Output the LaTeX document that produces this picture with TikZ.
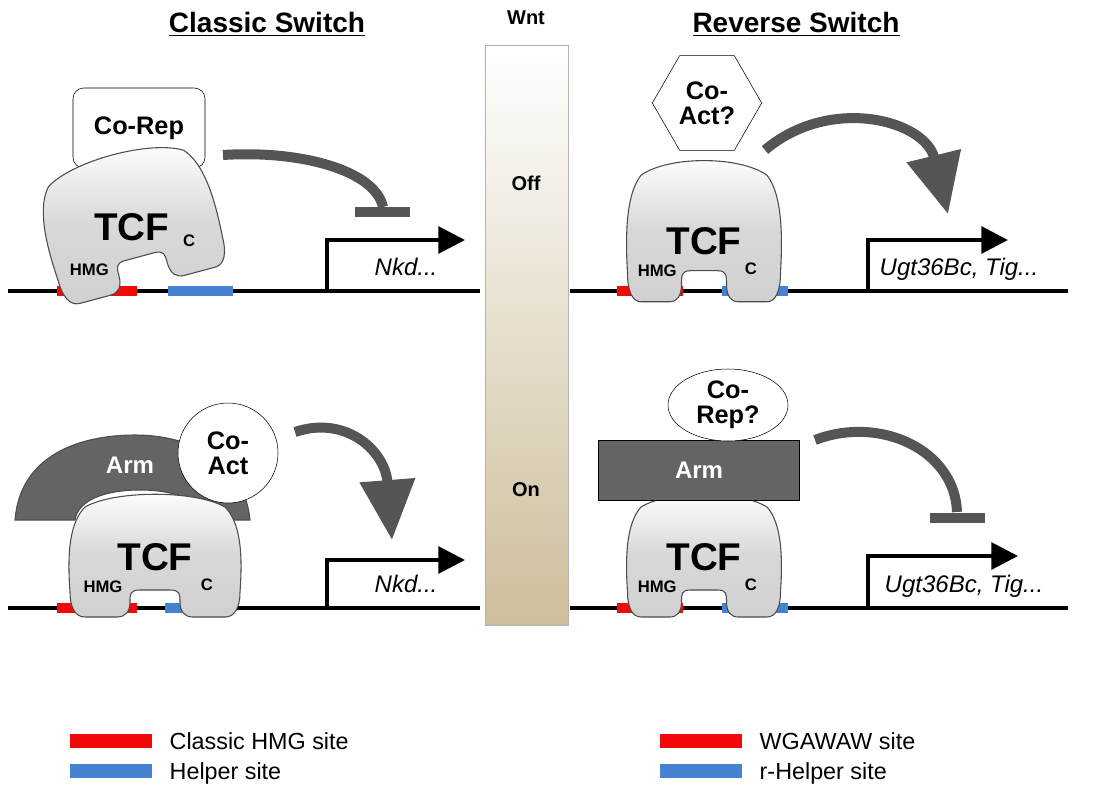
\documentclass[tikz,border=0pt]{standalone}
\usepackage{fontspec}
\setmainfont{Liberation Sans}
\usetikzlibrary{arrows.meta,shapes.geometric}
\definecolor{tcfgray}{RGB}{200,200,200}
\definecolor{armgray}{RGB}{100,100,100}
\definecolor{arrgray}{RGB}{85,85,85}
\definecolor{hmgred}{RGB}{240,10,10}
\definecolor{helpblue}{RGB}{70,130,210}
\definecolor{tan}{RGB}{205,190,155}
\tikzset{
  dna/.style={line width=3pt},
  site/.style={line width=7.5pt},
  tcf/.style={draw=black!70,line width=0.8pt,top color=white,bottom color=tcfgray!85,middle color=tcfgray!70},
  lab/.style={font=\bfseries\fontsize{19}{19}\selectfont,align=center},
  small/.style={font=\bfseries\fontsize{12.5}{12.5}\selectfont},
  big/.style={font=\bfseries\fontsize{29}{29}\selectfont},
  prom/.style={line width=3pt,-{Triangle[length=20pt 0,width=20pt 0]}},
  act/.style={arrgray,line width=7.5pt,-{Triangle[length=45pt 0,width=40pt 0]}},
  rep/.style={arrgray,line width=7.5pt},
  gene/.style={font=\itshape\fontsize{18}{18}\selectfont,anchor=base west},
  legend/.style={font=\fontsize{17.5}{17.5}\selectfont,anchor=west},
}
\newcommand\tcfbody[1][1]{%
  \path[tcf,yscale=#1] (-15,-22) -- (15,-22) .. controls (25,-22) and (25,-18) .. (25,-10) .. controls (25,0) and (30,5) .. (38,5) -- (70,5) .. controls (80,5) and (85,-5) .. (85,-20) .. controls (88,-60) and (85,-90) .. (70,-105) .. controls (40,-122) and (-40,-122) .. (-70,-105) .. controls (-85,-90) and (-88,-60) .. (-85,-20) .. controls (-85,-5) and (-80,5) .. (-70,5) -- (-38,5) .. controls (-30,5) and (-25,0) .. (-25,-10) .. controls (-25,-18) and (-25,-22) .. (-15,-22) -- cycle;
  \node[big] at (0,-55) {TCF};
  \node[small] at (-52,-25) {HMG};
  \node[small] at (52,-27) {C};}
\begin{document}
\begin{tikzpicture}[x=0.75pt,y=0.75pt,yscale=-1,xscale=1]
\useasboundingbox (0,0) rectangle (1097,800);

% titles
\node[font=\bfseries\fontsize{21}{21}\selectfont] (tclassic) at (267,24) {\underline{Classic Switch}};
\node[font=\bfseries\fontsize{21}{21}\selectfont] (treverse) at (796,24) {\underline{Reverse Switch}};

% Wnt bar
\shade[top color=white,bottom color=tan,draw=black!30] (485,45) rectangle (568,625);
\node[font=\bfseries\fontsize{15}{15}\selectfont] (wnt) at (526,18) {Wnt};
\node[font=\bfseries\fontsize{15}{15}\selectfont] (off) at (526,183) {Off};
\node[font=\bfseries\fontsize{15}{15}\selectfont] (on) at (526,490) {On};

% DNA lines and sites
\draw[dna] (8,291) -- (480,291);
\draw[dna] (8,608) -- (480,608);
\draw[dna] (570,291) -- (1068,291);
\draw[dna] (570,608) -- (1068,608);
\draw[site,hmgred] (57,291) -- (137,291);
\draw[site,helpblue] (168,291) -- (233,291);
\draw[site,hmgred] (57,608) -- (137,608);
\draw[site,helpblue] (165,608) -- (233,608);
\draw[site,hmgred] (617,291) -- (683,291);
\draw[site,helpblue] (722,291) -- (788,291);
\draw[site,hmgred] (617,608) -- (683,608);
\draw[site,helpblue] (722,608) -- (788,608);

% top left: classic off
\node[draw,rounded corners=8pt,fill=white,minimum width=99pt,minimum height=60pt,lab] (corep) at (139,128) {Co-Rep};
\begin{scope}[shift={(146,280)},rotate=-15]
\tcfbody[1.1]
\end{scope}
\coordinate (rep1s) at (223,155);
\coordinate (rep1e) at (383,207);
\draw[rep] (rep1s) .. controls (300,150) and (375,170) .. (rep1e);
\draw[arrgray,line width=7.5pt] (355,212) -- (410,212);
\coordinate (prom1) at (327,291);
\draw[prom] (prom1) |- (465,240);
\node[gene] (nkd1) at (370,275) {Nkd...};

% bottom left: classic on
\path[fill=armgray,draw=black!70,line width=0.8pt] (15,520) .. controls (20,455) and (80,435) .. (135,435) .. controls (195,435) and (245,465) .. (250,520) -- (205,520) .. controls (200,500) and (175,490) .. (140,490) .. controls (105,490) and (78,500) .. (75,520) -- cycle;
\node[font=\bfseries\fontsize{18}{18}\selectfont,text=white] (arm1) at (130,465) {Arm};
\begin{scope}[shift={(155,612)}]
\tcfbody[1.0]
\end{scope}
\node[draw,circle,fill=white,minimum size=75pt,lab,inner sep=0pt] (coact1) at (228,453) {Co-\\Act};
\coordinate (act1s) at (295,432);
\coordinate (act1e) at (392,540);
\draw[act] (act1s) .. controls (345,415) and (385,450) .. (act1e);
\coordinate (prom2) at (327,608);
\draw[prom] (prom2) |- (465,560);
\node[gene] (nkd2) at (370,592) {Nkd...};

% top right: reverse off
\begin{scope}[shift={(704,296)},xscale=0.9]
\tcfbody[1.15]
\end{scope}
\node[draw,regular polygon,regular polygon sides=6,fill=white,minimum size=82pt,lab,inner sep=0pt] (coact2) at (707,103) {Co-\\Act?};
\coordinate (act2s) at (765,150);
\coordinate (act2e) at (948,214);
\draw[act] (act2s) .. controls (830,95) and (925,120) .. (act2e);
\coordinate (prom3) at (868,291);
\draw[prom] (prom3) |- (1008,240);
\node[gene] (ugt1) at (875,275) {Ugt36Bc, Tig...};

% bottom right: reverse on
\begin{scope}[shift={(704,612)},xscale=0.9]
\tcfbody
\end{scope}
\node[draw,fill=armgray,minimum width=151pt,minimum height=45pt,font=\bfseries\fontsize{18}{18}\selectfont,text=white] (arm2) at (699,470) {Arm};
\node[draw,ellipse,fill=white,minimum width=90pt,minimum height=54pt,lab,inner sep=0pt] (corep2) at (728,405) {Co-\\Rep?};
\coordinate (rep2s) at (815,440);
\coordinate (rep2e) at (957,512);
\draw[rep] (rep2s) .. controls (880,415) and (955,450) .. (rep2e);
\draw[arrgray,line width=7.5pt] (930,518) -- (985,518);
\coordinate (prom4) at (868,608);
\draw[prom] (prom4) |- (1018,556);
\node[gene] (ugt2) at (880,592) {Ugt36Bc, Tig...};

% legend
\draw[site,line width=11pt,hmgred] (70,741) -- (152,741);
\node[legend] (lg1) at (165,741) {Classic HMG site};
\draw[site,line width=11pt,helpblue] (70,771) -- (152,771);
\node[legend] (lg2) at (165,773) {Helper site};
\draw[site,line width=11pt,hmgred] (660,741) -- (742,741);
\node[legend] (lg3) at (755,741) {WGAWAW site};
\draw[site,line width=11pt,helpblue] (660,771) -- (742,771);
\node[legend] (lg4) at (755,773) {r-Helper site};
\end{tikzpicture}
\end{document}
